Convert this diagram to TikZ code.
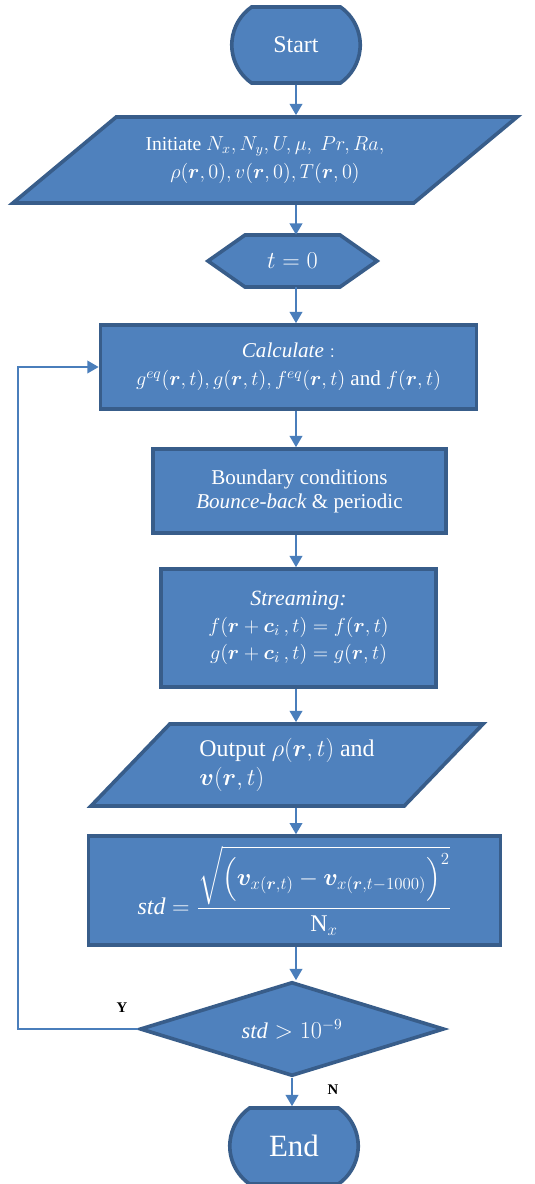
\documentclass[tikz,border=0pt]{standalone}
\usepackage{amsmath}
\usepackage{bm}
\usepackage{fontspec}
\setmainfont{Liberation Serif}
\usetikzlibrary{shapes.geometric,shapes.misc,arrows.meta}
\definecolor{boxfill}{RGB}{79,129,189}
\definecolor{boxline}{RGB}{56,93,138}
\definecolor{linkblue}{RGB}{74,126,187}
\begin{document}
\begin{tikzpicture}[x={(0.025cm,0cm)},y={(0cm,-0.025cm)},
  every node/.style={text=white, font=\fontsize{14}{20}\selectfont, align=center, inner sep=2pt},
  box/.style={draw=boxline, fill=boxfill, line width=2.6pt},
  term/.style={box, rounded rectangle, rounded rectangle arc length=110, minimum width=3.35cm, minimum height=1.9cm},
  flow/.style={draw=linkblue, line width=1.2pt, -{Triangle[width=9pt,length=8pt]}},
  tag/.style={text=black, font=\fontsize{10.5}{12}\selectfont\bfseries}]
\useasboundingbox (0,0) rectangle (534,1184);
\node[term, font=\fontsize{17}{20}\selectfont] (start) at (296,45) {Start};
\node[box, trapezium, trapezium left angle=27, trapezium right angle=153, trapezium stretches body, minimum width=12.6cm, minimum height=2.15cm] (init) at (265,160) {Initiate $N_x, N_y, U, \mu,\ Pr, Ra,$\\ $\rho(\bm{r},0), v(\bm{r},0), T(\bm{r},0)$};
\draw[box] (208,261) -- (245,235) -- (340,235) -- (377,261) -- (340,287) -- (245,287) -- cycle;
\node[minimum height=1.3cm, font=\fontsize{18}{20}\selectfont] (tzero) at (292.5,261) {$t=0$};
\node[box, rectangle, minimum width=9.4cm, minimum height=2.1cm, font=\fontsize{15}{20}\selectfont] (calc) at (288.5,367) {$\mathit{Calculate}:$\\ $g^{eq}(\bm{r},t), g(\bm{r},t), f^{eq}(\bm{r},t)$ and $f(\bm{r},t)$};
\node[box, rectangle, minimum width=7.32cm, minimum height=2.1cm, font=\fontsize{15}{17}\selectfont] (bound) at (299.5,491) {Boundary conditions\\ \textit{Bounce-back} \& periodic};
\node[box, rectangle, minimum width=6.88cm, minimum height=2.95cm, font=\fontsize{15.5}{19}\selectfont] (stream) at (298.5,628) {\textit{Streaming:}\\ $f(\bm{r}+\bm{c}_i\,,t)=f(\bm{r},t)$\\ $g(\bm{r}+\bm{c}_i\,,t)=g(\bm{r},t)$};
\node[box, trapezium, trapezium left angle=37, trapezium right angle=143, trapezium stretches body, minimum width=9.8cm, minimum height=2.05cm, align=left, font=\fontsize{17}{21}\selectfont] (output) at (287,765) {Output $\rho(\bm{r},t)$ and\\ $\bm{v}(\bm{r},t)$};
\node[box, rectangle, minimum width=10.3cm, minimum height=2.72cm, font=\fontsize{17}{20}\selectfont] (std) at (294.5,890.5) {$\mathit{std}=\dfrac{\sqrt{\Big(\bm{v}_{x(\bm{r},t)}-\bm{v}_{x(\bm{r},t-1000)}\Big)^2}}{\mathrm{N}_x}$};
\node[box, diamond, aspect=3.15, inner sep=0pt, minimum width=7.6cm, minimum height=2.35cm, font=\fontsize{16}{18}\selectfont] (check) at (292,1029) {$\mathit{std}>10^{-9}$};
\node[term, font=\fontsize{22}{24}\selectfont] (end) at (294,1146) {End};
\node[tag] (yes) at (122,1008) {Y};
\node[tag] (no) at (333,1090) {N};
\coordinate (back) at (18,1029);
\draw[flow] (start) -- (start |- init.north);
\draw[flow] (init.south -| start) -- (tzero.north -| start);
\draw[flow] (tzero.south -| start) -- (calc.north -| start);
\draw[flow] (calc.south -| start) -- (bound.north -| start);
\draw[flow] (bound.south -| start) -- (stream.north -| start);
\draw[flow] (stream.south -| start) -- (output.north -| start);
\draw[flow] (output.south -| start) -- (std.north -| start);
\draw[flow] (std.south -| start) -- (check.north -| start);
\draw[flow] (check.south) -- (end.north -| check);
\draw[flow, line width=1pt] (check.west) -- (back) |- (calc.west);
\end{tikzpicture}
\end{document}
